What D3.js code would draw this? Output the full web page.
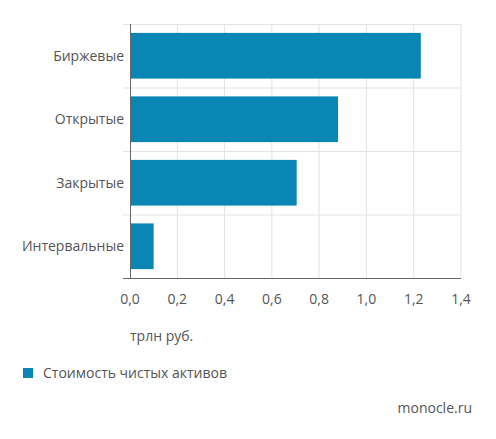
<!DOCTYPE html>
<html><head><meta charset="utf-8">
<script src="https://cdn.jsdelivr.net/npm/d3@7"></script>
<style>body{margin:0;background:#fff;font-family:"Open Sans",sans-serif}</style>
</head><body>
<svg id="chart" width="496" height="439"></svg>
<script>
var categories = ["Биржевые", "Открытые", "Закрытые", "Интервальные"];
var values = [1.23, 0.88, 0.705, 0.1];
var xTicks = [0, 0.2, 0.4, 0.6, 0.8, 1.0, 1.2, 1.4];

var svg = d3.select("#chart");
var left = 130, right = 461, plotTop = 24, bottom = 278;

var x = d3.scaleLinear().domain([0, 1.4]).range([left, right]);
var y = d3.scaleBand().domain(categories).range([plotTop, bottom]).paddingInner(0.28).paddingOuter(0.14);
var fmt = function(d) { return d3.format(".1f")(d).replace(".", ","); };

// vertical grid
svg.append("g").selectAll("line").data(xTicks.slice(1)).enter().append("line")
	.attr("x1", x).attr("x2", x).attr("y1", plotTop).attr("y2", bottom)
	.attr("stroke", "#e3e3e3");

// horizontal separators
var seps = d3.range(categories.length + 1).map(function(i) { return plotTop + i * (bottom - plotTop) / categories.length; });
svg.append("g").selectAll("line").data(seps.slice(0, -1)).enter().append("line")
	.attr("x1", left - 7).attr("x2", right).attr("y1", function(d) { return d + 0.5; }).attr("y2", function(d) { return d + 0.5; })
	.attr("stroke", "#e3e3e3");

svg.append("g").selectAll("rect").data(values).enter().append("rect")
	.attr("x", left).attr("y", function(d, i) { return y(categories[i]); })
	.attr("width", function(d) { return x(d) - left; })
	.attr("height", y.bandwidth())
	.attr("fill", "#0a86b5");

// axes lines
svg.append("line").attr("x1", left + 0.5).attr("x2", left + 0.5).attr("y1", plotTop).attr("y2", bottom)
	.attr("stroke", "#666");
svg.append("line").attr("x1", left - 7).attr("x2", right).attr("y1", bottom + 0.5).attr("y2", bottom + 0.5)
	.attr("stroke", "#666");

svg.append("g").selectAll("text").data(categories).enter().append("text")
	.attr("x", left - 6).attr("y", function(d) { return y(d) + y.bandwidth() / 2; })
	.attr("dy", "0.35em").attr("text-anchor", "end")
	.attr("font-size", 14).attr("fill", "#555").text(function(d) { return d; });

svg.append("g").selectAll("text").data(xTicks).enter().append("text")
	.attr("x", x).attr("y", 304).attr("text-anchor", "middle")
	.attr("font-size", 14).attr("fill", "#555").text(fmt);

svg.append("text").attr("x", 130).attr("y", 341).attr("font-size", 14).attr("fill", "#555").text("трлн руб.");

svg.append("rect").attr("x", 23).attr("y", 368).attr("width", 10).attr("height", 10).attr("fill", "#0a86b5");
svg.append("text").attr("x", 43).attr("y", 378).attr("font-size", 14).attr("fill", "#555").text("Стоимость чистых активов");

svg.append("text").attr("x", 472).attr("y", 413).attr("text-anchor", "end").attr("font-size", 14).attr("fill", "#555").text("monocle.ru");
</script>
</body></html>
